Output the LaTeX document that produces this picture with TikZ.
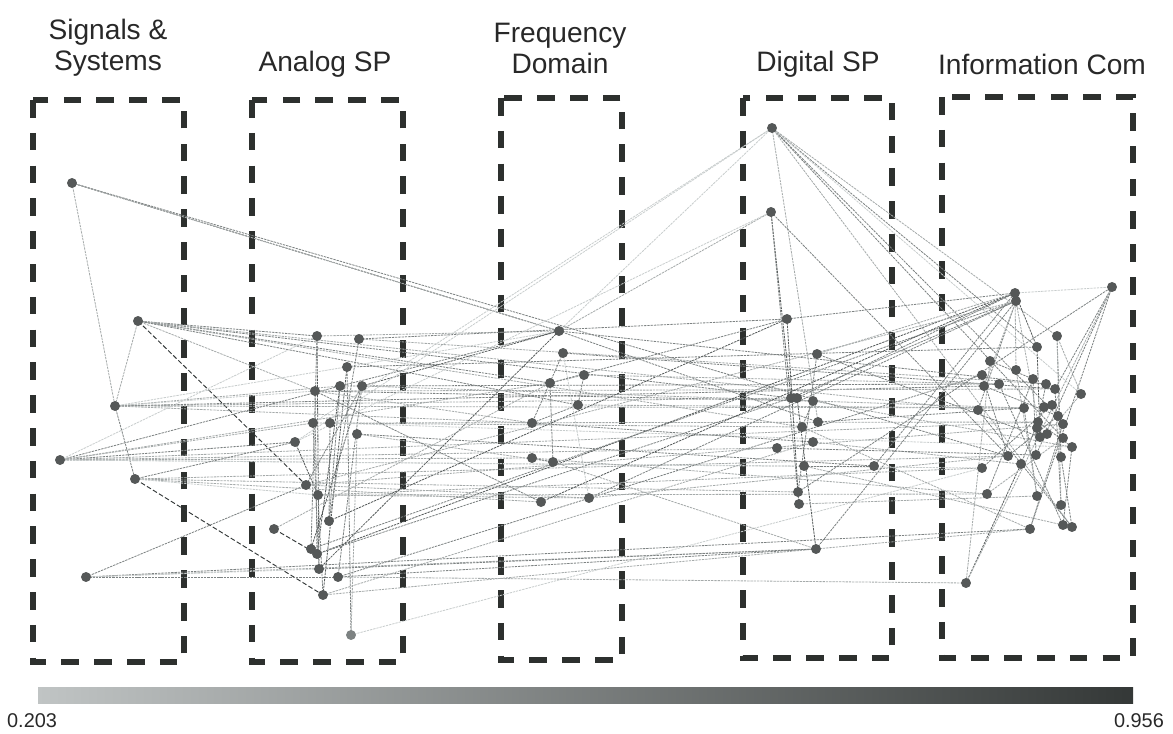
\documentclass[tikz,border=0pt]{standalone}
\usepackage{fontspec}
\setmainfont{Liberation Sans}
\definecolor{c1}{RGB}{200,205,205}
\definecolor{c2}{RGB}{165,170,170}
\definecolor{c3}{RGB}{125,130,130}
\definecolor{c4}{RGB}{85,90,90}
\definecolor{c5}{RGB}{50,55,55}
\definecolor{barlo}{RGB}{192,196,196}
\definecolor{barmid}{RGB}{88,92,92}
\definecolor{barhi}{RGB}{52,56,55}
\definecolor{boxc}{RGB}{45,48,46}
\definecolor{nodec}{RGB}{85,88,88}
\definecolor{txt}{RGB}{40,40,40}
\tikzset{
  edge/.style={line width=0.7pt, dash pattern=on 2pt off 0.8pt},
  e1/.style={edge, draw=c1},
  e2/.style={edge, draw=c2},
  e3/.style={edge, draw=c3},
  e4/.style={edge, draw=c4},
  e5/.style={line width=0.8pt, draw=c5, dash pattern=on 4pt off 2pt},
  vert/.style={circle, fill=nodec, draw=none, minimum size=8.5pt, inner sep=0pt},
  vlight/.style={vert, fill=c3},
  grp/.style={draw=boxc, line width=4.5pt, dash pattern=on 15pt off 13pt},
  title/.style={text=txt, font=\fontsize{24}{26.5}\selectfont, align=center},
  barlab/.style={text=txt, font=\fontsize{17}{19}\selectfont, anchor=base}
}
\begin{document}
\begin{tikzpicture}[x=0.03cm, y=-0.03cm]
\useasboundingbox (0,0) rectangle (1173,734);
% group boxes
\draw[grp] (33,100) rectangle (184,662);
\draw[grp] (252,100) rectangle (403,662);
\draw[grp] (501,98) rectangle (622,660);
\draw[grp] (743,98) rectangle (892,658);
\draw[grp] (942,97) rectangle (1133,658);
% titles
\node[title] (t1) at (108,48) {Signals \&\\Systems};
\node[title] (t2) at (325,64) {Analog SP};
\node[title] (t3) at (560,48) {Frequency\\Domain};
\node[title] (t4) at (818,64) {Digital SP};
\node[title] (t5) at (1042,64) {Information Com};
% vertices
\foreach \n/\x/\y in {s1/72/183, s2/138/321, s3/115/406, s4/60/460, s5/135/479, s6/86/577,
 a1/317/336, a2/359/339, a3/347/367, a4/315/391, a5/340/386, a6/362/386, a7/313/423, a8/330/423,
 a9/295/442, a10/357/434, a11/306/485, a12/318/495, a13/329/521, a14/274/529, a15/311/549,
 a16/317/554, a17/319/569, a18/338/577, a19/323/595,
 f1/559/331, f2/563/353, f3/550/383, f4/584/375, f5/578/405, f6/532/423, f7/532/458, f8/553/462,
 f9/541/502, f10/589/498,
 d1/772/128, d2/771/212, d3/787/319, d4/817/354, d5/791/398, d6/797/398, d7/813/401, d8/818/422,
 d9/802/427, d10/813/442, d11/777/448, d12/804/466, d13/874/466, d14/798/492, d15/799/504, d16/816/549,
 i1/1015/293, i2/1016/301, i3/1112/287, i4/1057/336, i5/1037/347, i6/990/361, i7/1016/370,
 i8/982/375, i9/984/386, i10/999/384, i11/1033/379, i12/1046/384, i13/1055/389, i14/1081/394,
 i15/978/410, i16/1024/408, i17/1044/407, i18/1052/405, i19/1058/416, i20/1063/424, i21/1038/422,
 i22/1037/428, i23/1047/434, i24/1040/437, i25/1063/438, i26/1072/447, i27/1061/457, i28/1008/456,
 i29/1021/464, i30/1036/455, i31/982/468, i32/987/494, i33/1037/496, i34/1061/505, i35/1030/529,
 i36/1063/525, i37/1072/527, i38/966/583}
  \coordinate (\n) at (\x,\y);
\coordinate (a20) at (351,635);
% edges
\foreach \u/\v/\s in {
 s1/s3/e2, s1/f1/e4, s1/i28/e3, s1/f1/e2,
 s2/s3/e2, s2/a11/e5, s2/a1/e3, s2/a4/e2, s2/f3/e3, s2/d5/e3, s2/d9/e2, s2/i15/e2, s2/f5/e3,
 s3/s5/e3, s3/a5/e2, s3/a4/e1, s3/f6/e2, s3/d6/e2, s3/i9/e3, s3/i16/e2, s3/f1/e1,
 s4/a5/e3, s4/a1/e1, s4/a9/e3, s4/f3/e2, s4/d11/e2, s4/i21/e2, s4/i31/e1, s4/f7/e2, s4/d12/e1, s4/a7/e2,
 s5/a19/e5, s5/a9/e3, s5/d14/e2, s5/i28/e2, s5/f9/e2, s5/a12/e1,
 s6/a11/e3, s6/a18/e3, s6/i35/e3, s6/d16/e2, s6/a17/e1,
 a1/a17/e4, a1/a15/e3, a3/a20/e3, a3/a19/e4, a2/a13/e3, a5/a16/e4, a6/a15/e4, a6/a18/e3,
 a4/a16/e3, a7/a17/e3, a14/a16/e5, a11/a6/e3, a10/a20/e2, a8/a13/e3, a12/a19/e3, a13/a5/e3, a9/a12/e4,
 a1/f1/e2, a5/f1/e3, a6/f1/e4, a17/f1/e4, a2/d3/e3, a3/i5/e3, a4/d7/e3, a5/i10/e3, a6/i16/e2,
 a7/d9/e2, a8/i21/e2, a10/d13/e3, a10/f8/e2, a12/i31/e2, a13/d3/e4, a16/i1/e4, a15/i2/e3,
 a18/i8/e3, a18/d16/e3, a19/i35/e2, a19/d10/e2, a16/d5/e3, a11/i20/e2, a14/f3/e2, a12/f10/e2,
 a9/d1/e1, a7/d1/e1, a20/i31/e1, a17/d16/e3, a2/i12/e2, a8/i26/e1, a4/i13/e2,
 f2/f6/e3, f3/f8/e3, f4/f5/e3, f5/f6/e3, f7/f8/e3, f2/f10/e1, f3/f4/e2,
 f1/d1/e1, f1/d2/e2, f1/i12/e3, f1/d8/e3, f2/i13/e3, f3/d3/e3, f4/i10/e2, f5/i16/e2, f6/d10/e3,
 f9/i1/e4, a4/f9/e3, f10/i2/e3, f10/i28/e2, f8/d16/e2, f7/i32/e2, f6/a4/e2, f10/a11/e2,
 d2/d5/e4, d2/d15/e3, d3/d14/e4, d1/d8/e2, d4/d14/e3, d6/d16/e4, d12/d13/e3, d7/d9/e3,
 d1/i5/e3, d1/i19/e3, d1/i25/e3, d1/i37/e2, d1/i14/e1, d1/i4/e2, d2/i28/e3, d4/i24/e3, d4/i1/e2,
 d3/i1/e3, d5/i2/e3, d7/i26/e2, d8/i16/e3, d10/i29/e2, d11/i30/e3, d12/i36/e2, d13/i1/e3,
 d14/i3/e3, d16/i2/e3, d15/i33/e2, d9/i35/e2, d6/i1/e3, d2/a9/e1,
 i1/i7/e2, i1/i5/e4, i3/i35/e3, i3/i30/e3, i3/i13/e3, i38/i29/e4, i38/i3/e2, i1/i3/e1,
 i4/i27/e3, i4/i14/e2, i5/i24/e4, i6/i11/e3, i8/i28/e3, i9/i19/e3, i10/i36/e3, i11/i32/e3,
 i12/i22/e3, i13/i34/e3, i14/i23/e2, i15/i37/e3, i16/i33/e3, i17/i29/e3, i18/i31/e3, i20/i35/e3,
 i21/i26/e3, i25/i32/e2, i26/i36/e3, i27/i37/e3, i28/i19/e3, i30/i11/e3, i2/i21/e2, i7/i33/e2,
 i2/i15/e3, i2/i9/e2, i2/a11/e2, i38/a18/e2, i32/a12/e2, i6/i38/e2, i4/i34/e2}
  \draw[\s] (\u) -- (\v);
% vertex dots on top
\foreach \n in {s1,s2,s3,s4,s5,s6,a1,a2,a3,a4,a5,a6,a7,a8,a9,a10,a11,a12,a13,a14,a15,a16,a17,a18,a19,
 f1,f2,f3,f4,f5,f6,f7,f8,f9,f10,d1,d2,d3,d4,d5,d6,d7,d8,d9,d10,d11,d12,d13,d14,d15,d16,
 i1,i2,i3,i4,i5,i6,i7,i8,i9,i10,i11,i12,i13,i14,i15,i16,i17,i18,i19,i20,i21,i22,i23,i24,i25,
 i26,i27,i28,i29,i30,i31,i32,i33,i34,i35,i36,i37,i38}
  \node[vert] (v\n) at (\n) {};
\node[vlight] (va20) at (a20) {};
% colour bar
\shade[left color=barlo, middle color=barmid, right color=barhi] (38,687) rectangle (1133,703);
\node[barlab, anchor=base west] (lo) at (3,727) {0.203};
\node[barlab, anchor=base east] (hi) at (1168,727) {0.956};
\end{tikzpicture}
\end{document}
